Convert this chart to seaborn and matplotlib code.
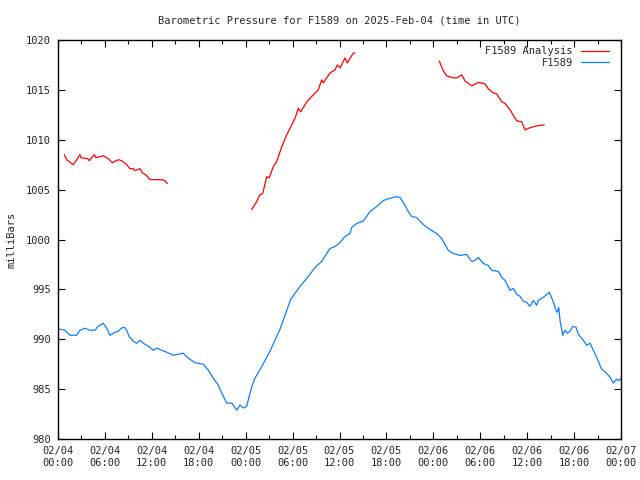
import pandas as pd
import matplotlib
matplotlib.use('Agg')
import matplotlib.pyplot as plt
import matplotlib.dates as mdates
from matplotlib.lines import Line2D
import seaborn as sns

# hours since 2025-02-04 00:00 UTC and pressure (mb)
station_hours = [0.0, 0.26, 0.9, 1.53, 2.39, 2.81, 3.45, 4.09, 4.73, 5.15, 5.79, 6.23, 6.65,
                 7.29, 7.71, 8.06, 8.48, 8.79, 9.08, 9.63, 10.07, 10.49, 10.91, 11.55, 12.19,
                 12.62, 13.26, 13.9, 14.75, 15.39, 16.02, 16.66, 17.52, 18.58, 19.22, 19.86,
                 20.5, 20.94, 21.58, 22.22, 22.85, 23.28, 23.7, 24.13, 24.43, 24.77, 25.19,
                 26.09, 27.11, 28.39, 29.76, 30.95, 32.01, 32.87, 33.72, 34.79, 35.43, 36.07,
                 36.7, 37.34, 37.56, 38.2, 39.04, 39.9, 40.76, 41.6, 42.24, 43.32, 43.74,
                 44.25, 44.8, 45.24, 45.87, 46.72, 47.58, 48.43, 49.07, 49.92, 50.56, 51.41,
                 52.27, 52.91, 53.33, 53.75, 54.39, 55.03, 55.47, 56.31, 56.75, 57.17, 57.81,
                 58.23, 58.66, 59.09, 59.51, 59.94, 60.36, 60.79, 61.22, 61.43, 62.07, 62.83,
                 63.27, 63.69, 63.86, 64.04, 64.2, 64.55, 64.84, 65.14, 65.48, 65.83, 66.25,
                 66.54, 67.18, 67.62, 68.04, 68.46, 69.1, 69.53, 69.96, 70.6, 71.02, 71.45,
                 71.79, 72.0]
station_mb = [991.1, 991.0, 990.9, 990.4, 990.4, 990.9, 991.1, 990.9, 990.9, 991.3, 991.6,
              991.1, 990.4, 990.7, 990.8, 991.1, 991.2, 990.9, 990.3, 989.8, 989.6, 989.9,
              989.6, 989.3, 988.9, 989.1, 988.9, 988.7, 988.4, 988.5, 988.6, 988.1, 987.65,
              987.5, 986.9, 986.1, 985.4, 984.6, 983.6, 983.6, 982.9, 983.4, 983.1, 983.3,
              984.2, 985.2, 986.1, 987.3, 988.8, 991.0, 994.0, 995.3, 996.3, 997.2, 997.8,
              999.1, 999.3, 999.7, 1000.3, 1000.6, 1001.2, 1001.6, 1001.85, 1002.8, 1003.3,
              1003.9, 1004.1, 1004.3, 1004.2, 1003.6, 1002.8, 1002.3, 1002.2, 1001.5, 1001.0,
              1000.6, 1000.1, 998.9, 998.6, 998.4, 998.5, 997.8, 997.9, 998.2, 997.6, 997.4,
              996.9, 996.8, 996.2, 995.9, 994.9, 995.1, 994.5, 994.3, 993.8, 993.7, 993.3,
              993.9, 993.4, 993.9, 994.2, 994.7, 993.9, 992.9, 992.7, 993.2, 991.9, 990.4,
              990.9, 990.6, 990.8, 991.3, 991.2, 990.5, 989.9, 989.4, 989.6, 988.9, 987.8,
              987.0, 986.75, 986.2, 985.6, 986.0, 985.85, 986.1]

# analysis comes in three separate runs
analysis_hours_1 = [0.81, 1.11, 1.96, 2.39, 2.81, 2.94, 3.8, 4.0, 4.64, 4.86, 5.79, 6.43, 6.94,
                    7.71, 8.15, 8.79, 9.21, 9.63, 9.85, 10.49, 10.78, 11.34, 11.77, 13.26,
                    13.68, 13.98]
analysis_mb_1 = [1008.5, 1008.0, 1007.5, 1008.0, 1008.5, 1008.2, 1008.1, 1007.9, 1008.5, 1008.2,
                 1008.4, 1008.1, 1007.7, 1008.0, 1007.9, 1007.5, 1007.1, 1007.1, 1006.9, 1007.1,
                 1006.7, 1006.4, 1006.0, 1006.0, 1005.9, 1005.6]
analysis_hours_2 = [24.77, 25.41, 25.83, 26.18, 26.69, 27.02, 27.53, 27.97, 28.61, 29.25, 29.89,
                    30.31, 30.73, 31.04, 31.81, 32.65, 33.29, 33.72, 33.93, 34.79, 35.43, 35.72,
                    36.07, 36.7, 37.0, 37.77, 37.98]
analysis_mb_2 = [1003.0, 1003.8, 1004.5, 1004.6, 1006.3, 1006.2, 1007.3, 1007.8, 1009.3, 1010.5,
                 1011.5, 1012.15, 1013.15, 1012.8, 1013.8, 1014.5, 1015.0, 1016.0, 1015.7, 1016.7,
                 1017.0, 1017.5, 1017.2, 1018.2, 1017.7, 1018.7, 1018.7]
analysis_hours_3 = [48.76, 49.28, 49.71, 50.56, 50.99, 51.63, 52.05, 52.91, 53.75, 54.61, 55.03,
                    55.67, 56.1, 56.75, 57.17, 57.81, 58.66, 59.3, 59.72, 60.36, 61.22, 62.19]
analysis_mb_3 = [1017.9, 1016.9, 1016.4, 1016.2, 1016.2, 1016.5, 1015.9, 1015.4, 1015.75, 1015.6,
                 1015.1, 1014.7, 1014.6, 1013.8, 1013.65, 1013.0, 1011.9, 1011.8, 1011.0, 1011.2,
                 1011.4, 1011.5]

start = pd.Timestamp('2025-02-04 00:00')
end = pd.Timestamp('2025-02-07 00:00')

def to_frame(hours, mb):
    return pd.DataFrame({'time': start + pd.to_timedelta(hours, unit='h'), 'mb': mb})

red = '#ff0000'
blue = '#0a80ff'

sns.set_style('ticks')
plt.rcParams['font.family'] = ['DejaVu Sans Mono']

fig = plt.figure(figsize=(6.4, 4.8), dpi=100)
ax = fig.add_axes([58 / 640, 1 - 439 / 480, 563 / 640, 399 / 480])

for h, m in [(analysis_hours_1, analysis_mb_1), (analysis_hours_2, analysis_mb_2),
             (analysis_hours_3, analysis_mb_3)]:
    sns.lineplot(data=to_frame(h, m), x='time', y='mb', color=red, lw=0.9, ax=ax,
                 estimator=None, sort=False)
sns.lineplot(data=to_frame(station_hours, station_mb), x='time', y='mb', color=blue,
             lw=0.9, ax=ax, estimator=None, sort=False)

ax.set_xlim(start, end)
ax.set_ylim(980, 1020)
ax.set_yticks(range(980, 1021, 5))
ax.xaxis.set_major_locator(mdates.HourLocator(byhour=[0, 6, 12, 18]))
ax.xaxis.set_minor_locator(mdates.HourLocator(byhour=[3, 9, 15, 21]))
ax.xaxis.set_major_formatter(mdates.DateFormatter('%m/%d\n%H:%M'))

ax.tick_params(axis='both', which='both', direction='in', top=True, right=True,
               labelsize=7.5, width=0.8, color='black')
ax.tick_params(axis='both', which='major', length=5, pad=5)
ax.tick_params(axis='both', which='minor', length=3)
for s in ax.spines.values():
    s.set_linewidth(1.0)
    s.set_color('black')

ax.set_xlabel('')
ax.set_ylabel('milliBars', fontsize=7.5, labelpad=7)
ax.set_title('Barometric Pressure for F1589 on 2025-Feb-04 (time in UTC)',
             fontsize=7.5, pad=12)

handles = [Line2D([], [], color=red, lw=0.9), Line2D([], [], color=blue, lw=0.9)]
ax.legend(handles, ['F1589 Analysis', 'F1589'], loc='upper right',
          bbox_to_anchor=(1 - 6 / 563, 1), frameon=False,
          markerfirst=False, fontsize=7.5, handlelength=2.7, handletextpad=0.75,
          labelspacing=0.15, borderaxespad=0.2)

fig.savefig('out.png', dpi=100)
